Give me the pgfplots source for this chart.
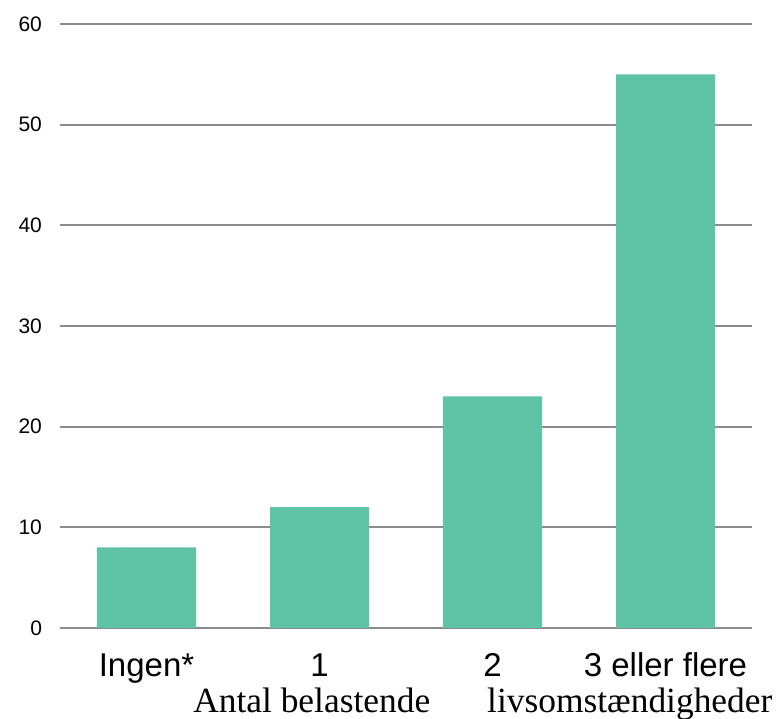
\documentclass[border=0pt]{standalone}
\usepackage{pgfplots}
\pgfplotsset{compat=1.18}
\usepackage{fontspec}
\setmainfont{Liberation Sans}
\newfontfamily\labelserif{Liberation Serif}
\definecolor{barc}{RGB}{95,196,166}
\definecolor{gridc}{RGB}{140,140,140}
\begin{document}
\begin{tikzpicture}
\begin{axis}[
  name=ax,
  scale only axis,
  width=346pt, height=302pt,
  xmin=-0.5, xmax=3.5, ymin=0, ymax=60,
  ytick={0,10,20,30,40,50,60},
  xtick={0,1,2,3},
  xticklabels={Ingen*,1,2,3 eller flere},
  ymajorgrids,
  grid style={gridc, line width=1pt},
  axis line style={draw=none},
  major tick length=0pt,
  ybar, bar width=49.5pt,
  /pgf/number format/assume math mode=true,
  yticklabel style={font=\fontsize{10.5}{12}\selectfont, xshift=-5.5pt},
  xticklabel style={font=\fontsize{16.5}{19}\selectfont, anchor=base, yshift=-24.5pt},
  xlabel={Antal belastende\hspace{28.5pt}livsomstændigheder},
  xlabel style={at={(rel axis cs:0.611,0)}, anchor=base, yshift=-42pt, font=\labelserif\fontsize{17.7}{20}\selectfont},
]
\addplot[fill=barc, draw=none] coordinates {(0,8) (1,12) (2,23) (3,55)};
\end{axis}
\pgfresetboundingbox
\path ([xshift=-30pt,yshift=-45.5pt]ax.south west) rectangle ([xshift=13pt,yshift=12pt]ax.north east);
\end{tikzpicture}
\end{document}
